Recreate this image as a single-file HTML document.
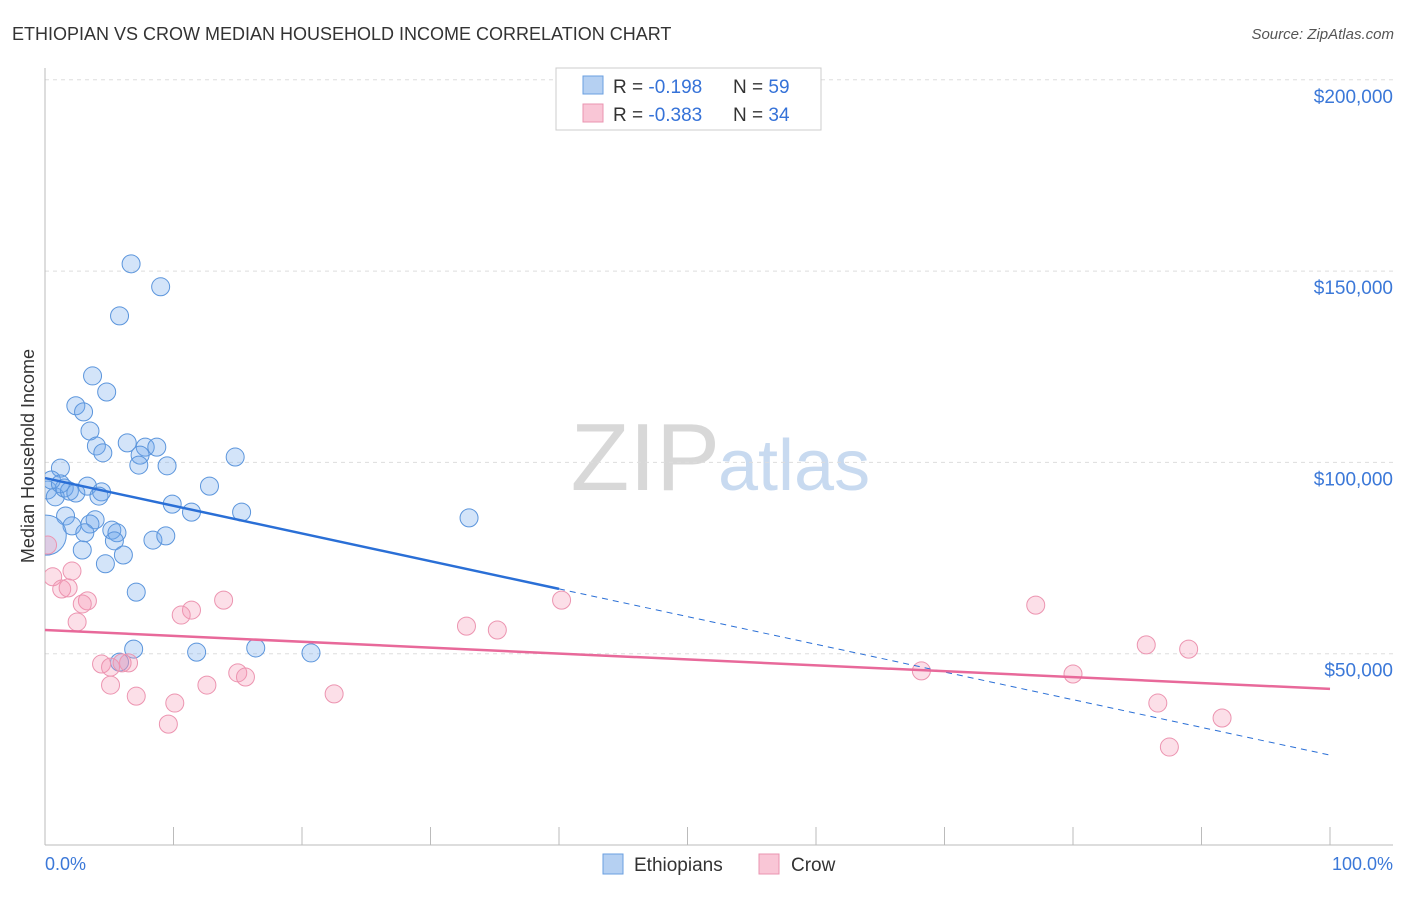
<!DOCTYPE html>
<html><head><meta charset="utf-8"><style>
body{margin:0;background:#fff;font-family:"Liberation Sans",sans-serif}
svg text{font-family:"Liberation Sans",sans-serif}
</style></head><body>
<svg id="c" width="1406" height="892" viewBox="0 0 1406 892" xmlns="http://www.w3.org/2000/svg">
<defs><clipPath id="plotclip"><rect x="45" y="60" width="1348" height="785"/></clipPath></defs>
<text x="12" y="40" font-size="18" fill="#333">ETHIOPIAN VS CROW MEDIAN HOUSEHOLD INCOME CORRELATION CHART</text>
<text x="1394" y="39" font-size="15" fill="#555" font-style="italic" text-anchor="end">Source: ZipAtlas.com</text>
<text x="720" y="490" font-size="96" fill="#d8d8d8" text-anchor="end" font-family="Liberation Serif">ZIP</text>
<text x="718" y="490" font-size="72" fill="#c8daf0">atlas</text>
<text transform="translate(34,456) rotate(-90)" font-size="18" fill="#333" text-anchor="middle">Median Household Income</text>
<g id="grid"></g><g id="axes"></g><g id="pts" clip-path="url(#plotclip)"></g><g id="lines"></g>
<g>
<rect x="556" y="68" width="265" height="62" fill="#fff" stroke="#ccc"/>
<rect x="583" y="76" width="20" height="18" fill="#b5d0f2" stroke="#6a9fe0"/>
<rect x="583" y="104" width="20" height="18" fill="#f9c6d6" stroke="#ea94b0"/>
<text x="613" y="93" font-size="19" fill="#333">R = <tspan fill="#3572d8">-0.198</tspan><tspan x="733">N = </tspan><tspan fill="#3572d8">59</tspan></text>
<text x="613" y="121" font-size="19" fill="#333">R = <tspan fill="#3572d8">-0.383</tspan><tspan x="733">N = </tspan><tspan fill="#3572d8">34</tspan></text>
</g>
<g>
<rect x="603" y="854" width="20" height="20" fill="#b5d0f2" stroke="#6a9fe0"/>
<text x="634" y="871" font-size="19" fill="#333">Ethiopians</text>
<rect x="759" y="854" width="20" height="20" fill="#f9c6d6" stroke="#ea94b0"/>
<text x="791" y="871" font-size="19" fill="#333">Crow</text>
</g>
<text x="45" y="870" font-size="18" fill="#3b78d8">0.0%</text>
<text x="1393" y="870" font-size="18" fill="#3b78d8" text-anchor="end">100.0%</text>
</svg>
<script>
const yTicks=[50000,100000,150000,200000];
const yTickLabels=["$50,000","$100,000","$150,000","$200,000"];
const xTicks=[0,10,20,30,40,50,60,70,80,90,100];
const ethX=[6.7,9.0,5.8,3.7,4.8,2.4,3.0,3.5,4.0,6.4,4.5,7.8,8.7,7.4,7.3,9.5,14.8,1.2,0.2,0.8,1.5,1.9,2.4,3.3,4.4,4.2,12.8,9.9,11.4,15.3,33.0,1.6,3.9,2.1,3.5,3.1,5.2,5.6,5.4,8.4,9.4,2.9,6.1,4.7,7.1,6.9,11.8,16.4,20.7,5.8,0.5,1.2,0.1];
const ethY=[151.9,145.9,138.3,122.6,118.4,114.8,113.2,108.2,104.3,105.1,102.5,104.0,104.0,101.9,99.3,99.1,101.4,98.5,92.8,91.0,93.3,92.5,92.0,93.8,92.3,91.2,93.8,89.1,87.0,87.0,85.5,86.0,85.0,83.4,83.9,81.6,82.3,81.6,79.5,79.7,80.8,77.1,75.8,73.5,66.1,51.2,50.4,51.5,50.2,47.8,95.4,94.4,81];
const crowX=[0.2,0.6,2.1,1.3,1.8,3.3,2.9,2.5,13.9,11.4,10.6,32.8,35.2,40.2,77.1,4.4,5.1,6.5,6.0,5.1,7.1,10.1,9.6,12.6,15.0,15.6,22.5,68.2,80.0,85.7,89.0,86.6,91.6,87.5];
const crowY=[78.4,70.1,71.6,66.9,67.2,63.8,63.0,58.3,64.0,61.4,60.1,57.2,56.2,64.0,62.7,47.3,46.5,47.6,47.6,41.8,38.9,37.1,31.6,41.8,45.0,43.9,39.5,45.5,44.7,52.3,51.2,37.1,33.2,25.6];
const ethTrend=[95.9,23.5]; const ethSolidEnd=40;
const crowTrend=[56.2,40.8];
const NS="http://www.w3.org/2000/svg";
const X=p=>45+p*12.85, Y=v=>845-v/50000*191.3, Yk=k=>Y(k*1000);
function mk(t,a,parent){const e=document.createElementNS(NS,t);for(const k in a)e.setAttribute(k,a[k]);document.getElementById(parent).appendChild(e);return e;}
yTicks.forEach((v,i)=>{
 const l=mk('line',{x1:45,x2:1393,y1:Y(v),y2:Y(v),stroke:'#ddd','stroke-dasharray':'4,4'},'grid');
 
 
 const t=mk('text',{x:1393,y:Y(v)+23,'font-size':19,fill:'#3b78d8','text-anchor':'end'},'grid');
 t.textContent=yTickLabels[i];
 
 
});
mk('line',{x1:45,x2:45,y1:68,y2:845,stroke:'#bbb'},'axes');
mk('line',{x1:45,x2:1393,y1:845,y2:845,stroke:'#bbb'},'axes');
xTicks.forEach(p=>{const t=mk('line',{x1:X(p),x2:X(p),y1:827,y2:845,stroke:'#bbb'},'axes');
 
 });
ethX.forEach((p,i)=>{const c=mk('circle',{cx:X(p),cy:Yk(ethY[i]),r:i==ethX.length-1?20:9,fill:'rgba(110,165,235,0.3)',stroke:'#5b95dc','stroke-width':1},'pts');
 
 });
crowX.forEach((p,i)=>{const c=mk('circle',{cx:X(p),cy:Yk(crowY[i]),r:9,fill:'rgba(245,150,180,0.3)',stroke:'#ec94b0','stroke-width':1},'pts');
 
 });
const ey=p=>ethTrend[0]+(ethTrend[1]-ethTrend[0])*p/100;
let l1=mk('line',{x1:X(0),y1:Yk(ey(0)),x2:X(ethSolidEnd),y2:Yk(ey(ethSolidEnd)),stroke:'#2a6fd6','stroke-width':2.5},'lines');


let l2=mk('line',{x1:X(ethSolidEnd),y1:Yk(ey(ethSolidEnd)),x2:X(100),y2:Yk(ey(100)),stroke:'#2a6fd6','stroke-width':1,'stroke-dasharray':'6,5'},'lines');


let l3=mk('line',{x1:X(0),y1:Yk(crowTrend[0]),x2:X(100),y2:Yk(crowTrend[1]),stroke:'#e8699a','stroke-width':2.5},'lines');


</script>
</body></html>
